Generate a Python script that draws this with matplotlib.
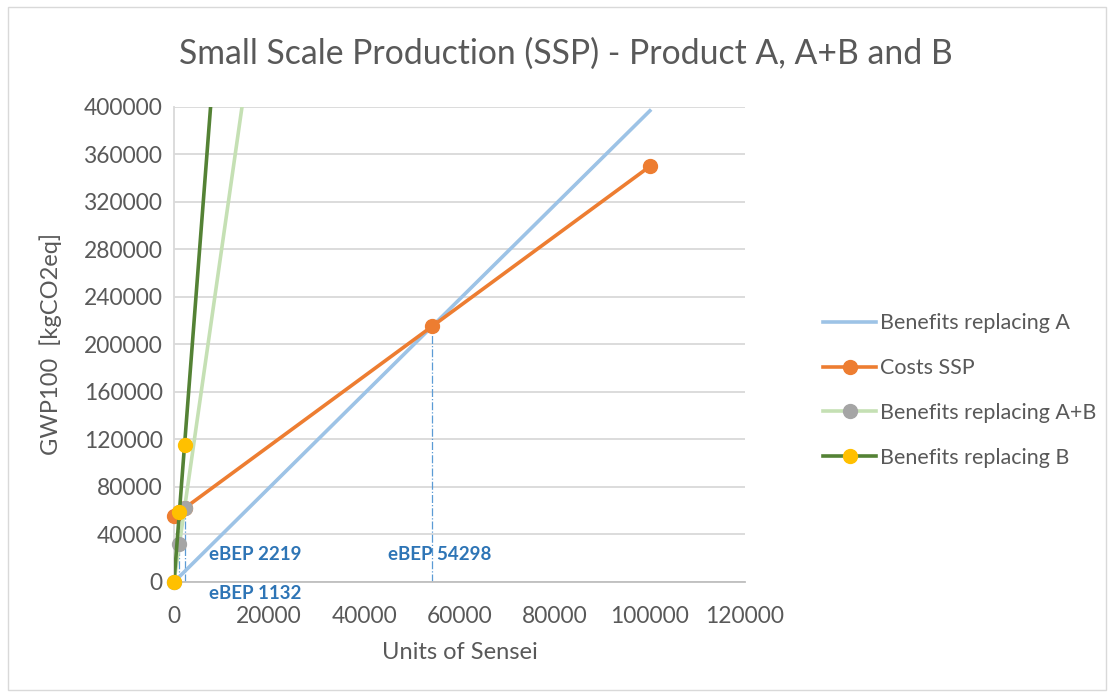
import matplotlib.pyplot as plt
from matplotlib.patches import Rectangle

plt.rcParams['font.family'] = ['Lato', 'DejaVu Sans']

# units produced and GWP100 of each series
units = [0, 1132, 2219, 54298, 100000]
benefits_a = [0, 4492, 8805, 215454, 396800]
costs_ssp = [55600, 58933, 62133, 215453, 350000]
benefits_ab = [0, 31700, 62133, 1520344, 2800000]
benefits_b = [0, 58930, 115521, 2826754, 5206000]

# break-even points (units, costs at that point)
bep_units = [1132, 2219, 54298]
bep_costs = [58933, 62133, 215453]
bep_labels = ['eBEP 1132', 'eBEP 2219', 'eBEP 54298']

yticks = list(range(0, 400001, 40000))
xticks = list(range(0, 120001, 20000))
ymax = 400000

fig = plt.figure(figsize=(11.14, 6.96), dpi=100)
ax = fig.add_axes([0.1562, 0.1638, 0.5126, 0.6825])

fig.patches.append(Rectangle((0.007, 0.008), 0.986, 0.982, transform=fig.transFigure,
                             fill=False, edgecolor='#D9D9D9', linewidth=1))

# drop lines at break-even points
for u, c in zip(bep_units, bep_costs):
    ax.plot([u, u], [0, c], color='#5B9BD5', linestyle='-.', linewidth=0.9, zorder=2)


def series(y, line_color, marker_color=None, z=3):
    ln, = ax.plot(units, y, color=line_color, linewidth=2.6, zorder=z)
    if marker_color is None:
        return ln
    # markers drawn unclipped so the ones on the axes edge stay whole
    pts = [(u, v) for u, v in zip(units, y) if v <= ymax]
    mk, = ax.plot([p[0] for p in pts], [p[1] for p in pts], linestyle='none', marker='o',
                  markersize=10, color=marker_color, clip_on=False, zorder=z + 0.5)
    return (ln, mk)


h_a = series(benefits_a, '#9DC3E6', z=3)
h_c = series(costs_ssp, '#ED7D31', '#ED7D31', z=4)
h_ab = series(benefits_ab, '#C5E0B4', '#A5A5A5', z=5)
h_b = series(benefits_b, '#548235', '#FFC000', z=6)

# break-even labels
lbl = dict(color='#2E75B6', fontweight='bold', fontsize=13.5, va='center', ha='left')
ax.text(7300, -10000, bep_labels[0], clip_on=False, **lbl)
ax.text(7300, 23500, bep_labels[1], **lbl)
ax.text(45000, 23500, bep_labels[2], **lbl)

ax.set_xlim(0, 120000)
ax.set_ylim(0, ymax)
ax.set_xticks(xticks)
ax.set_yticks(yticks)
ax.tick_params(axis='both', length=0, labelsize=16.4, labelcolor='#595959')
ax.tick_params(axis='x', pad=17)
ax.tick_params(axis='y', pad=8)
ax.grid(axis='y', color='#D9D9D9', linewidth=1.3)
ax.set_axisbelow(True)
for side in ['top', 'right']:
    ax.spines[side].set_visible(False)
ax.spines['left'].set_color('#D9D9D9')
ax.spines['left'].set_linewidth(1.3)
ax.spines['bottom'].set_color('#BFBFBF')
ax.spines['bottom'].set_linewidth(1.3)

ax.set_xlabel('Units of Sensei', fontsize=17, color='#595959', labelpad=11)
ax.set_ylabel('GWP100  [kgCO2eq]', fontsize=17, color='#595959', labelpad=16)
fig.text(0.508, 0.923, 'Small Scale Production (SSP) - Product A, A+B and B',
         ha='center', va='center', fontsize=24.3, color='#595959')

ax.legend([h_a, h_c, h_ab, h_b],
          ['Benefits replacing A', 'Costs SSP', 'Benefits replacing A+B', 'Benefits replacing B'],
          loc='center left', bbox_to_anchor=(1.102, 0.403), frameon=False, fontsize=15.5,
          handlelength=2.5, handletextpad=0.15, labelspacing=1.15, labelcolor='#595959')

fig.savefig('out.png', dpi=100)
